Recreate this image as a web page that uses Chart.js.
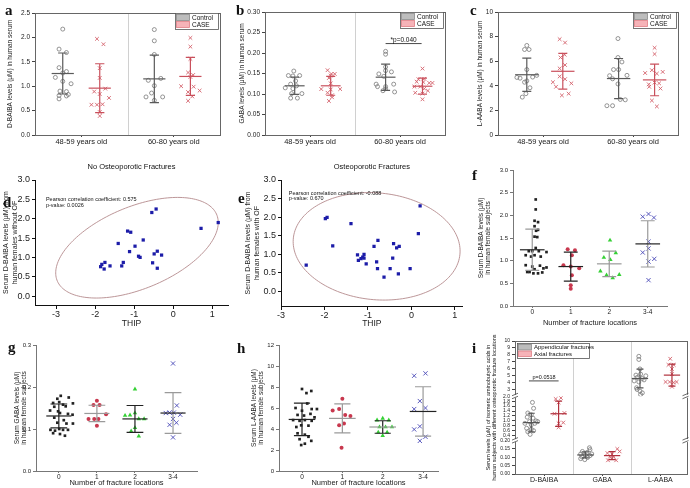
<!DOCTYPE html>
<html>
<head>
<meta charset="utf-8">
<script src="https://cdn.jsdelivr.net/npm/chart.js@4.4.1/dist/chart.umd.min.js"></script>
<style>
  body { margin: 0; background: #fff; }
  #fig { position: relative; width: 690px; height: 488px; overflow: hidden; }
  #fig canvas { position: absolute; }
  .tag { position: absolute; font: bold 15px "Liberation Serif", serif; line-height: 1; color: #111; }
</style>
</head>
<body>
<div id="fig">
  <canvas id="ca" width="228" height="152" style="left:0;top:0"></canvas>
  <canvas id="cb" width="228" height="152" style="left:228px;top:0"></canvas>
  <canvas id="cc" width="234" height="152" style="left:456px;top:0"></canvas>
  <canvas id="cd" width="235" height="170" style="left:0;top:160px"></canvas>
  <canvas id="ce" width="230" height="170" style="left:235px;top:160px"></canvas>
  <canvas id="cf" width="225" height="170" style="left:465px;top:160px"></canvas>
  <canvas id="cg" width="225" height="163" style="left:0;top:325px"></canvas>
  <canvas id="ch" width="235" height="163" style="left:225px;top:325px"></canvas>
  <canvas id="ci" width="230" height="163" style="left:460px;top:325px"></canvas>
  <div class="tag" style="left:5px;top:3px">a</div>
  <div class="tag" style="left:236px;top:3px">b</div>
  <div class="tag" style="left:470px;top:3px">c</div>
  <div class="tag" style="left:3px;top:195px">d</div>
  <div class="tag" style="left:238px;top:191px">e</div>
  <div class="tag" style="left:472px;top:168px">f</div>
  <div class="tag" style="left:8px;top:340px">g</div>
  <div class="tag" style="left:237px;top:341px">h</div>
  <div class="tag" style="left:472px;top:341px">i</div>
</div>
<script>
// categories
const ageGroups = ['48-59 years old', '60-80 years old'];
const fracLabels = ['0', '1', '2', '3-4'];
const acidLabels = ['D-BAIBA', 'GABA', 'L-AABA'];

// a: D-BAIBA in serum (Control / CASE, two age groups); *j = horizontal jitter
const aPos = [0.30, 0.70, 1.29, 1.68];
const aC1 = [2.17, 1.76, 1.69, 1.38, 1.27, 1.30, 1.18, 1.10, 1.05, 0.90, 0.89, 0.83, 0.81, 0.80, 0.74];
const aC1j = [0, -0.04, 0.04, -0.04, 0, 0.04, -0.08, 0, 0.09, -0.03, 0.04, 0.06, -0.04, 0.04, -0.04];
const aS1 = [1.97, 1.86, 1.37, 1.17, 0.89, 0.95, 0.84, 0.76, 0.62, 0.62, 0.63, 0.47, 0.39];
const aS1j = [-0.03, 0.04, 0, 0, -0.06, 0.06, 0, 0.1, -0.09, -0.03, 0.03, 0, 0];
const aC2 = [2.16, 1.93, 1.65, 1.12, 1.16, 1.01, 0.86, 0.78, 0.78, 0.71];
const aC2j = [0, 0, 0, -0.065, 0.07, 0, -0.03, -0.09, 0.09, 0];
const aS2 = [1.99, 1.81, 1.56, 1.28, 1.23, 1.19, 1.00, 0.99, 0.91, 0.88, 0.79, 0.70];
const aS2j = [0, 0, 0, -0.025, 0.03, 0, -0.1, 0.035, 0.1, -0.025, 0.02, -0.025];
const aMean = [1.26, 0.96, 1.15, 1.20];
const aSD = [0.42, 0.50, 0.485, 0.39];

// b: GABA in serum
const bPos = [0.33, 0.73, 1.34, 1.75];
const bC1 = [0.156, 0.145, 0.144, 0.145, 0.132, 0.124, 0.120, 0.115, 0.113, 0.101, 0.101, 0.090, 0.090];
const bC1j = [-0.01, -0.07, -0.02, 0.055, 0.01, -0.045, 0.02, -0.105, -0.02, 0.08, -0.035, -0.045, 0.03];
const bS1 = [0.158, 0.149, 0.149, 0.145, 0.139, 0.126, 0.112, 0.112, 0.111, 0.103, 0.097, 0.092, 0.083];
const bS1j = [-0.035, 0.007, 0.045, 0, -0.02, 0, -0.105, 0.105, 0, -0.035, 0.015, 0.015, -0.02];
const bC2 = [0.204, 0.197, 0.166, 0.157, 0.154, 0.149, 0.143, 0.124, 0.118, 0.124, 0.118, 0.113, 0.108, 0.105];
const bC2j = [0, 0, 0, 0, 0.065, -0.075, -0.02, -0.105, -0.09, 0.09, 0, 0, -0.03, 0.1];
const bS2 = [0.162, 0.137, 0.136, 0.130, 0.129, 0.127, 0.127, 0.118, 0.118, 0.113, 0.103, 0.108, 0.101, 0.087];
const bS2j = [0, 0.02, -0.045, -0.065, 0.01, 0.075, 0.11, -0.09, -0.025, 0.02, -0.08, 0.06, 0, 0];
const bMean = [0.120, 0.120, 0.141, 0.119];
const bSD = [0.021, 0.023, 0.032, 0.0195];

// c: L-AABA in serum
const cPos = [0.32, 0.72, 1.34, 1.74];
const cC1 = [7.28, 6.95, 6.95, 5.32, 4.68, 4.62, 4.85, 4.71, 4.40, 4.29, 3.84, 3.36, 3.08];
const cC1j = [0, -0.025, 0.025, 0, -0.11, -0.075, 0.11, 0.065, 0, -0.025, 0.035, -0.01, -0.05];
const cS1 = [7.79, 7.51, 6.30, 6.53, 5.41, 5.69, 4.76, 4.54, 4.29, 3.92, 4.20, 3.36, 3.22];
const cS1j = [-0.035, 0.025, -0.025, 0.02, -0.035, 0.025, -0.035, 0.025, -0.11, -0.075, 0.095, 0.065, -0.01];
const cC2 = [7.84, 6.30, 5.94, 5.32, 5.32, 4.82, 4.85, 4.57, 4.15, 2.89, 2.86, 2.38, 2.38];
const cC2j = [-0.007, -0.007, 0.037, -0.056, 0, -0.1, 0.093, -0.067, -0.007, 0.019, 0.074, -0.13, -0.067];
const cS2 = [7.09, 6.58, 5.04, 5.27, 4.99, 5.13, 4.12, 4.26, 4.20, 3.92, 3.78, 2.80, 2.32];
const cS2j = [0, 0, -0.105, -0.03, 0.025, 0.09, -0.065, 0, 0.05, -0.06, 0.065, -0.03, 0.025];
const cMean = [4.90, 5.18, 4.59, 4.48];
const cSD = [1.35, 1.45, 1.63, 1.29];

// d: THIP vs D-BAIBA, no osteoporotic fractures
const dThip = [-0.44, -0.55, 1.15, 0.71, -1.17, -1.09, -0.77, -1.41, -0.98, -1.12, -0.41, -0.49, -0.30, -0.89, -0.85, -1.75, -1.28, -1.83, -1.62, -1.86, -1.32, -1.77, -0.53, -0.41];
const dBaiba = [2.25, 2.16, 1.90, 1.75, 1.68, 1.65, 1.45, 1.36, 1.29, 1.15, 1.16, 1.09, 1.06, 1.03, 1.00, 0.87, 0.87, 0.82, 0.78, 0.76, 0.78, 0.70, 0.86, 0.72];

// e: THIP vs D-BAIBA, osteoporotic fractures
const eThip = [0.20, -1.94, -1.98, -1.39, 0.16, -1.81, -0.77, -0.86, -0.41, -0.34, -0.28, -1.24, -1.09, -1.12, -1.16, -1.22, -1.09, -0.43, -0.80, -1.04, -2.42, -0.78, -0.49, -0.03, -0.63, -0.30];
const eBaiba = [2.30, 1.99, 1.96, 1.82, 1.55, 1.22, 1.37, 1.21, 1.28, 1.17, 1.21, 0.98, 0.99, 0.92, 0.88, 0.83, 0.89, 0.89, 0.79, 0.74, 0.70, 0.61, 0.61, 0.61, 0.38, 0.47];

// f: D-BAIBA by number of fracture locations
const f0 = [2.35, 2.13, 1.88, 1.85, 1.76, 1.68, 1.66, 1.53, 1.52, 1.28, 1.21, 1.21, 1.21, 1.19, 1.12, 1.09, 1.12, 1.09, 0.90, 0.87, 0.89, 0.85, 0.83, 0.81, 0.75, 0.72, 0.72, 0.74, 0.75];
const f0j = [0.09, 0.09, 0.06, 0.15, 0.06, 0.15, 0.1, 0.06, 0.13, 0.09, -0.09, 0, 0.17, 0.37, -0.17, -0.03, 0.06, 0.22, -0.17, 0, 0.2, 0.37, 0.29, 0.06, -0.07, 0.03, 0.15, 0.26, -0.13];
const f1 = [1.25, 1.23, 1.12, 0.90, 0.87, 0.83, 0.68, 0.46, 0.38];
const f1j = [-0.08, 0.11, 0.03, -0.19, 0, 0.22, 0.03, 0, 0];
const f2 = [1.45, 1.07, 1.17, 1.02, 0.77, 0.68, 0.62, 0.69];
const f2j = [0.02, -0.14, 0.17, 0.03, -0.23, -0.07, 0.09, 0.26];
const f3 = [1.97, 2.03, 1.95, 1.42, 1.27, 1.18, 0.98, 1.04, 0.57];
const f3j = [-0.13, 0.02, 0.16, 0.02, 0.02, -0.13, 0.02, 0.17, 0.02];
const fMean = [1.24, 0.87, 0.93, 1.37];
const fSD = [0.455, 0.32, 0.28, 0.51];

// g: GABA by number of fracture locations
const g0 = [0.179, 0.172, 0.175, 0.162, 0.164, 0.158, 0.161, 0.153, 0.154, 0.144, 0.142, 0.138, 0.136, 0.134, 0.127, 0.121, 0.115, 0.113, 0.113, 0.098, 0.096, 0.100, 0.098, 0.098, 0.088, 0.084, 0.090];
const g0j = [0.05, -0.04, 0.26, -0.15, 0.01, 0.11, 0.37, -0.12, 0.18, -0.23, -0.02, 0.03, 0.24, 0.36, -0.12, 0.13, -0.04, 0.2, 0.37, -0.22, -0.1, 0.01, 0.11, 0.24, 0.03, 0.16, -0.15];
const g1 = [0.167, 0.157, 0.157, 0.135, 0.124, 0.124, 0.124, 0.108];
const g1j = [0, 0.07, -0.09, 0.24, -0.22, -0.07, 0.04, 0];
const g2 = [0.195, 0.132, 0.133, 0.138, 0.124, 0.124, 0.103, 0.095, 0.083];
const g2j = [0, -0.26, -0.13, 0, 0.1, 0.24, 0, -0.1, 0.1];
const g3 = [0.256, 0.156, 0.139, 0.139, 0.138, 0.134, 0.124, 0.110, 0.115, 0.080];
const g3j = [0, 0.1, -0.09, 0.02, -0.19, 0.19, 0, -0.09, 0.09, 0];
const gMean = [0.131, 0.137, 0.124, 0.138];
const gSD = [0.0285, 0.0195, 0.032, 0.0485];

// h: L-AABA by number of fracture locations
const h0 = [7.81, 7.42, 7.62, 6.43, 6.0, 5.90, 5.90, 5.74, 5.34, 5.28, 5.44, 4.85, 4.78, 4.85, 4.78, 5.11, 4.19, 4.35, 4.32, 3.59, 3.46, 3.26, 3.03, 2.87, 2.60, 2.47];
const h0j = [0, 0.11, 0.23, 0.13, -0.16, 0.24, 0.37, 0, -0.11, 0.05, 0.21, -0.22, -0.06, 0.07, 0.24, 0.31, -0.14, -0.02, 0.16, -0.11, 0.07, 0.16, -0.06, 0.23, 0.07, -0.02];
const h1 = [6.89, 5.77, 5.90, 5.34, 5.24, 4.52, 4.35, 2.21];
const h1j = [0, -0.24, -0.08, 0.07, 0.2, 0.04, -0.08, -0.02];
const h2 = [5.01, 4.85, 4.85, 4.19, 4.19, 4.19, 3.69, 3.69, 3.36];
const h2j = [0, -0.14, 0.15, -0.08, 0.07, 0.23, -0.11, 0.11, 0];
const h3 = [9.07, 9.30, 6.66, 5.90, 6.0, 4.25, 3.96, 3.26, 2.87];
const h3j = [-0.22, 0.06, -0.08, -0.22, 0.06, -0.08, -0.22, 0.06, -0.08];
const hMean = [4.91, 5.01, 4.19, 5.67];
const hSD = [1.55, 1.385, 0.595, 2.355];

// i: appendicular vs axial fractures, three acids (broken y axis)
const iPos = [0.28, 0.75, 1.21, 1.67, 2.15, 2.70];
const iDa = [1.75, 1.51, 1.32, 1.25, 1.15, 1.11, 1.0, 0.97, 0.90, 0.90, 0.84, 0.70, 0.66, 0.56, 0.45, 0.60, 0.97];
const iDaj = [0.02, 0.04, -0.06, 0, -0.07, 0.03, 0.08, -0.03, -0.11, 0.06, 0, -0.08, 0, -0.06, -0.02, 0.04, 0.11];
const iDx = [1.89, 1.93, 1.75, 1.32, 1.29, 0.90, 0.93, 0.74];
const iDxj = [-0.05, 0.04, 0, 0.1, -0.07, 0, 0.08, 0];
const iGa = [0.135, 0.129, 0.146, 0.120, 0.114, 0.110, 0.103, 0.099, 0.120, 0.086, 0.092, 0.157];
const iGaj = [-0.05, 0.03, 0.08, -0.08, 0, 0.08, -0.06, 0.04, 0.11, -0.01, -0.08, 0.07];
const iGx = [0.125, 0.150, 0.118, 0.103, 0.082, 0.082, 0.103, 0.135];
const iGxj = [-0.08, 0.09, 0, 0.03, -0.07, 0.07, -0.04, 0.13];
const iLa = [7.78, 7.33, 5.95, 5.06, 5.21, 4.96, 4.72, 4.57, 4.22, 4.07, 4.37, 3.23, 2.74, 2.49, 2.99, 2.25];
const iLaj = [-0.02, -0.02, 0, -0.07, 0.01, 0.1, -0.05, 0.04, -0.1, -0.02, 0.07, -0.06, 0, 0.04, -0.05, 0.01];
const iLx = [7.43, 6.54, 6.54, 5.95, 5.21, 4.07, 4.07, 3.98, 4.07, 3.38];
const iLxj = [-0.03, -0.06, 0.03, 0, 0, -0.11, -0.04, 0.03, 0.08, 0];
const iMean = [0.93, 1.29, 0.114, 0.110, 4.57, 5.06];
const iSD = [0.38, 0.51, 0.018, 0.0235, 1.36, 1.58];

const FONT = '"Liberation Sans", Arial, sans-serif';
const fnt = size => ({ family: FONT, size, weight: 'normal' });
const pts = (pos, jit, vals) => vals.map((v, i) => ({ x: pos + jit[i], y: v }));
const xy = (xs, ys) => xs.map((x, i) => ({ x, y: ys[i] }));
const ds = (data, style, yAxisID) => Object.assign({ data, pointHoverRadius: 0 }, style, yAxisID ? { yAxisID } : {});
const bars = (pos, mean, sd, cols, mw, cw, axes) => pos.map((x, i) => ({
  x, mean: mean[i], sd: sd[i], color: cols[i][0], mc: cols[i][1] || cols[i][0], mw, cw, axis: axes ? axes[i] : 'y'
}));

// point styles
const CTRL = { pointStyle: 'circle', pointRadius: 2, backgroundColor: 'rgba(0,0,0,0)', borderColor: '#7a7a7a', borderWidth: 0.8 };
const CASE = { pointStyle: 'crossRot', pointRadius: 2.6, borderColor: '#d4616b', borderWidth: 0.9 };
const BLUE = { pointStyle: 'rect', pointRadius: 2.3, backgroundColor: '#1c1ca8', borderColor: '#1c1ca8', borderWidth: 0 };
const GRP = [
  { pointStyle: 'rect', pointRadius: 1.9, backgroundColor: '#222', borderColor: '#222', borderWidth: 0 },
  { pointStyle: 'circle', pointRadius: 2, backgroundColor: '#c8384e', borderColor: '#c8384e', borderWidth: 0 },
  { pointStyle: 'triangle', pointRadius: 2.6, backgroundColor: '#35d035', borderColor: '#35d035', borderWidth: 0 },
  { pointStyle: 'crossRot', pointRadius: 3, borderColor: '#4a4ab8', borderWidth: 0.9 }
];
const CC = ['#5a5a5a'], RC = ['#c9505c'];
const LEG_AGE = {
  w: 43, h: 16, sw: 13, size: 6.5, dx: 2, dy: 0,
  items: [{ label: 'Control', fill: '#bdbdbd', stroke: '#8a8a8a' }, { label: 'CASE', fill: '#f6b3b8', stroke: '#e07e86' }]
};

// drawing of error bars, frames, legends, notes and the ellipse through the chart scales
const deco = {
  id: 'deco',
  beforeDatasetsDraw(chart, args, o) {
    const { ctx, chartArea: ca, scales } = chart;
    ctx.save();
    ctx.lineWidth = 1; ctx.strokeStyle = '#d0d0d0';
    (o.dividers || []).forEach(v => {
      const x = Math.round(scales.x.getPixelForValue(v)) + 0.5;
      ctx.beginPath(); ctx.moveTo(x, ca.top); ctx.lineTo(x, ca.bottom); ctx.stroke();
    });
    if (o.ellipse) {
      const e = o.ellipse, k = Math.sqrt(1 - e.rho * e.rho);
      ctx.strokeStyle = e.color; ctx.lineWidth = 0.9; ctx.beginPath();
      for (let i = 0; i <= 180; i++) {
        const t = i / 180 * Math.PI * 2;
        const px = scales.x.getPixelForValue(e.cx + e.rx * Math.cos(t));
        const py = scales.y.getPixelForValue(e.cy + e.ry * (e.rho * Math.cos(t) + k * Math.sin(t)));
        if (i) ctx.lineTo(px, py); else ctx.moveTo(px, py);
      }
      ctx.stroke();
    }
    ctx.restore();
  },
  afterDatasetsDraw(chart, args, o) {
    const { ctx, chartArea: ca, scales } = chart;
    const xs = scales.x;
    ctx.save();
    (o.bars || []).forEach(b => {
      const ys = scales[b.axis];
      const px = xs.getPixelForValue(b.x);
      const mw = xs.getPixelForValue(b.x + b.mw) - px, cw = xs.getPixelForValue(b.x + b.cw) - px;
      const yt = ys.getPixelForValue(b.mean + b.sd), yb = ys.getPixelForValue(b.mean - b.sd), ym = ys.getPixelForValue(b.mean);
      ctx.lineWidth = 1.2; ctx.strokeStyle = b.color;
      ctx.beginPath();
      ctx.moveTo(px, yt); ctx.lineTo(px, yb);
      ctx.moveTo(px - cw, yt); ctx.lineTo(px + cw, yt);
      ctx.moveTo(px - cw, yb); ctx.lineTo(px + cw, yb);
      ctx.stroke();
      ctx.strokeStyle = b.mc;
      ctx.beginPath(); ctx.moveTo(px - mw, ym); ctx.lineTo(px + mw, ym); ctx.stroke();
    });
    (o.lines || []).forEach(l => {
      const ys = scales[l.axis || 'y'], y = ys.getPixelForValue(l.y);
      ctx.strokeStyle = '#333'; ctx.lineWidth = 0.9;
      ctx.beginPath(); ctx.moveTo(xs.getPixelForValue(l.x1), y); ctx.lineTo(xs.getPixelForValue(l.x2), y); ctx.stroke();
    });
    (o.texts || []).forEach(t => {
      ctx.font = t.size + 'px ' + FONT; ctx.fillStyle = '#111';
      ctx.textAlign = t.align || 'left'; ctx.textBaseline = 'alphabetic';
      ctx.fillText(t.text, xs.getPixelForValue(t.x), scales[t.axis || 'y'].getPixelForValue(t.y));
    });
    if (o.frame) {
      ctx.strokeStyle = o.frame; ctx.lineWidth = 1;
      ctx.strokeRect(Math.round(ca.left) + 0.5, Math.round(ca.top) + 0.5, Math.round(ca.width), Math.round(ca.height));
    }
    if (o.breaks) {
      ctx.strokeStyle = '#444'; ctx.lineWidth = 0.8;
      o.breaks.forEach(id => {
        const y = scales[id].bottom;
        [ca.left, ca.right - 1].forEach(x => {
          ctx.fillStyle = '#fff'; ctx.fillRect(x - 3, y - 1.5, 6, 3);
          ctx.beginPath();
          ctx.moveTo(x - 3, y - 0.5); ctx.lineTo(x + 3, y - 3);
          ctx.moveTo(x - 3, y + 2.5); ctx.lineTo(x + 3, y);
          ctx.stroke();
        });
      });
    }
    if (o.legend) {
      const L = o.legend;
      ctx.font = L.size + 'px ' + FONT;
      const x0 = L.left ? ca.left + L.dx : ca.right - L.w - L.dx, y0 = ca.top + L.dy;
      ctx.fillStyle = '#fff'; ctx.fillRect(x0, y0, L.w, L.h);
      ctx.strokeStyle = '#555'; ctx.lineWidth = 0.8; ctx.strokeRect(x0 + 0.5, y0 + 0.5, L.w, L.h);
      const rh = (L.h - 2) / L.items.length;
      L.items.forEach((it, i) => {
        const yy = y0 + 1.5 + i * rh;
        ctx.fillStyle = it.fill; ctx.fillRect(x0 + 1.5, yy, L.sw, rh - 1);
        ctx.strokeStyle = it.stroke; ctx.strokeRect(x0 + 1.5, yy, L.sw, rh - 1);
        ctx.fillStyle = '#111'; ctx.textAlign = 'left'; ctx.textBaseline = 'middle';
        ctx.fillText(it.label, x0 + L.sw + 4, yy + rh / 2);
      });
    }
    if (o.vtitle) {
      const V = o.vtitle;
      ctx.translate(V.x, (ca.top + ca.bottom) / 2); ctx.rotate(-Math.PI / 2);
      ctx.font = V.size + 'px ' + FONT; ctx.fillStyle = '#111';
      ctx.textAlign = 'center'; ctx.textBaseline = 'middle';
      V.lines.forEach((ln, i) => ctx.fillText(ln, 0, i * V.lh));
    }
    ctx.restore();
  }
};
Chart.register(deco);

function yLin(o) {
  const col = o.color || '#444';
  const ax = {
    type: 'linear', position: 'left', min: o.min, max: o.max,
    afterFit: s => { s.width = o.w; },
    border: { color: col, width: 1 },
    grid: { drawOnChartArea: false, tickLength: 3, color: col },
    ticks: { stepSize: o.step, font: fnt(o.fs), color: '#222', padding: 2, includeBounds: false, autoSkip: false },
    title: o.title ? { display: true, text: o.title, font: fnt(o.tfs), color: '#222', padding: { top: o.tp, bottom: 0 } } : { display: false }
  };
  if (o.cb) ax.ticks.callback = o.cb;
  return ax;
}

function xAx(o) {
  const col = o.color || '#444';
  const ax = {
    type: 'linear', min: o.min, max: o.max,
    afterFit: s => { s.height = o.h; },
    border: { color: col, width: 1 },
    grid: { drawOnChartArea: false, tickLength: o.tl || 2, color: col },
    ticks: { font: fnt(o.fs), color: '#222', padding: 0, maxRotation: 0, autoSkip: false, includeBounds: false },
    title: o.title ? { display: true, text: o.title, font: fnt(o.tfs), color: '#222', padding: { top: 0, bottom: o.tb || 1 } } : { display: false }
  };
  if (o.at) {
    ax.afterBuildTicks = s => { s.ticks = o.at.map(value => ({ value })); };
    ax.ticks.callback = (v, i) => o.labels[i];
  } else {
    ax.ticks.stepSize = o.step;
  }
  return ax;
}

function opts(pad, scales, deco, title) {
  return {
    responsive: false, animation: false, devicePixelRatio: 1, events: [],
    layout: { padding: pad },
    plugins: { legend: { display: false }, tooltip: { enabled: false }, title: title || { display: false }, deco },
    scales
  };
}

function make(id, datasets, options) {
  return new Chart(document.getElementById(id), { type: 'scatter', data: { datasets }, options });
}

const f1dp = v => v.toFixed(1), f2dp = v => v.toFixed(2);

// a
make('ca', [
  ds(pts(aPos[0], aC1j, aC1), CTRL), ds(pts(aPos[1], aS1j, aS1), CASE),
  ds(pts(aPos[2], aC2j, aC2), CTRL), ds(pts(aPos[3], aS2j, aS2), CASE)
], opts({ left: 0, right: 8, top: 13, bottom: 0 }, {
  x: xAx({ min: 0, max: 2, h: 17, at: [0.5, 1.5], labels: ageGroups, fs: 7.5 }),
  y: yLin({ min: 0, max: 2.5, step: 0.5, w: 35, fs: 6.5, tfs: 6.5, tp: 6, cb: f1dp, title: 'D-BAIBA levels (μM) in human serum' })
}, { frame: '#666', dividers: [1], legend: LEG_AGE, bars: bars(aPos, aMean, aSD, [CC, RC, CC, RC], 0.12, 0.05) }));

// b
make('cb', [
  ds(pts(bPos[0], bC1j, bC1), CTRL), ds(pts(bPos[1], bS1j, bS1), CASE),
  ds(pts(bPos[2], bC2j, bC2), CTRL), ds(pts(bPos[3], bS2j, bS2), CASE)
], opts({ left: 0, right: 11, top: 12, bottom: 0 }, {
  x: xAx({ min: 0, max: 2, h: 17, at: [0.5, 1.5], labels: ageGroups, fs: 7.5 }),
  y: yLin({ min: 0, max: 0.3, step: 0.05, w: 37, fs: 6.5, tfs: 6.5, tp: 10, cb: f2dp, title: 'GABA levels (μM) in human serum' })
}, {
  frame: '#666', dividers: [1], legend: LEG_AGE, bars: bars(bPos, bMean, bSD, [CC, RC, CC, RC], 0.11, 0.05),
  lines: [{ x1: 1.34, x2: 1.74, y: 0.223 }], texts: [{ text: '*p=0.040', x: 1.54, y: 0.227, align: 'center', size: 6.5 }]
}));

// c
make('cc', [
  ds(pts(cPos[0], cC1j, cC1), CTRL), ds(pts(cPos[1], cS1j, cS1), CASE),
  ds(pts(cPos[2], cC2j, cC2), CTRL), ds(pts(cPos[3], cS2j, cS2), CASE)
], opts({ left: 0, right: 12, top: 12, bottom: 0 }, {
  x: xAx({ min: 0, max: 2, h: 17, at: [0.5, 1.5], labels: ageGroups, fs: 7.5 }),
  y: yLin({ min: 0, max: 10, step: 2, w: 42, fs: 6.5, tfs: 6.5, tp: 20, title: 'L-AABA levels (μM) in human serum' })
}, { frame: '#666', legend: LEG_AGE, bars: bars(cPos, cMean, cSD, [CC, RC, CC, RC], 0.13, 0.05) }));

// d
make('cd', [ds(xy(dThip, dBaiba), BLUE)], opts({ left: 0, right: 7, top: 0, bottom: 0 }, {
  x: xAx({ min: -3.54, max: 1.4, step: 1, h: 25, tl: 4, fs: 9, title: 'THIP', tfs: 8.5, color: '#111' }),
  y: yLin({ min: -0.23, max: 3.0, step: 0.5, w: 35, fs: 9, tfs: 7, tp: 2, cb: f1dp, color: '#111',
    title: ['Serum D-BAIBA levels (μM) from', 'human females without OF'] })
}, {
  ellipse: { cx: -0.93, cy: 1.25, rx: 2.08, ry: 1.3, rho: 0.5, color: '#b48a8c' },
  texts: [
    { text: 'Pearson correlation coefficient: 0.575', x: -3.26, y: 2.47, size: 5.5 },
    { text: 'p-value: 0.0026', x: -3.26, y: 2.31, size: 5.5 }
  ]
}, { display: true, text: 'No Osteoporotic Fractures', font: fnt(7.5), color: '#111', fullSize: false, padding: { top: 2, bottom: 9 } }));

// e
make('ce', [ds(xy(eThip, eBaiba), BLUE)], opts({ left: 0, right: 2, top: 0, bottom: 0 }, {
  x: xAx({ min: -3, max: 1.18, step: 1, h: 24, tl: 4, fs: 9, title: 'THIP', tfs: 8.5, color: '#111' }),
  y: yLin({ min: -0.4, max: 3.0, step: 0.5, w: 46, fs: 9, tfs: 7, tp: 9, cb: f1dp, color: '#111',
    title: ['Serum D-BAIBA levels (μM) from', 'human females with OF'] })
}, {
  ellipse: { cx: -0.8, cy: 1.21, rx: 1.92, ry: 1.45, rho: -0.088, color: '#b48a8c' },
  texts: [
    { text: 'Pearson correlation coefficient: -0.088', x: -2.82, y: 2.6, size: 5.5 },
    { text: 'p-value: 0.670', x: -2.82, y: 2.45, size: 5.5 }
  ]
}, { display: true, text: 'Osteoporotic Fractures', font: fnt(7.5), color: '#111', fullSize: false, padding: { top: 2, bottom: 9 } }));

// f, g, h share the fracture-location layout
const GB = '#9a9a9a', BK = '#222';
make('cf', [
  ds(pts(0, f0j, f0), GRP[0]), ds(pts(1, f1j, f1), GRP[1]), ds(pts(2, f2j, f2), GRP[2]), ds(pts(3, f3j, f3), GRP[3])
], opts({ left: 0, right: 23, top: 10, bottom: 0 }, {
  x: xAx({ min: -0.5, max: 3.5, h: 24, at: [0, 1, 2, 3], labels: fracLabels, fs: 6.5, color: '#777', title: 'Number of fracture locations', tfs: 7.5, tb: 3 }),
  y: yLin({ min: 0, max: 3, step: 0.5, w: 48, fs: 6, tfs: 6.5, tp: 12, cb: f1dp, color: '#777',
    title: ['Serum D-BAIBA levels (μM)', 'in human female subjects'] })
}, { bars: bars([0, 1, 2, 3], fMean, fSD, [[GB, BK], [BK], [GB], [GB, BK]], 0.32, 0.18) }));

make('cg', [
  ds(pts(0, g0j, g0), GRP[0]), ds(pts(1, g1j, g1), GRP[1]), ds(pts(2, g2j, g2), GRP[2]), ds(pts(3, g3j, g3), GRP[3])
], opts({ left: 0, right: 28, top: 20, bottom: 0 }, {
  x: xAx({ min: -0.6, max: 3.63, h: 17, at: [0, 1, 2, 3], labels: fracLabels, fs: 6.5, color: '#777', title: 'Number of fracture locations', tfs: 7.5, tb: 0 }),
  y: yLin({ min: 0, max: 0.3, step: 0.1, w: 36, fs: 6, tfs: 6.5, tp: 13, cb: f1dp, color: '#777',
    title: ['Serum GABA levels (μM)', 'in human female subjects'] })
}, { bars: bars([0, 1, 2, 3], gMean, gSD, [[BK], [GB], [BK], [GB, BK]], 0.33, 0.22) }));

make('ch', [
  ds(pts(0, h0j, h0), GRP[0]), ds(pts(1, h1j, h1), GRP[1]), ds(pts(2, h2j, h2), GRP[2]), ds(pts(3, h3j, h3), GRP[3])
], opts({ left: 0, right: 22, top: 20, bottom: 0 }, {
  x: xAx({ min: -0.57, max: 3.37, h: 17, at: [0, 1, 2, 3], labels: fracLabels, fs: 6.5, color: '#777', title: 'Number of fracture locations', tfs: 7.5, tb: 0 }),
  y: yLin({ min: 0, max: 12, step: 2, w: 54, fs: 6, tfs: 6.5, tp: 25, color: '#777',
    title: ['Serum L-AABA levels (μM)', 'in human female subjects'] })
}, { bars: bars([0, 1, 2, 3], hMean, hSD, [[BK], [GB], [BK, GB], [GB, BK]], 0.33, 0.2) }));

// i: three stacked y segments make the broken axis
const iAx = ['yMid', 'yMid', 'yBot', 'yBot', 'yTop', 'yTop'];
const ICOL = ['#555'], IRED = ['#b0303c'];
make('ci', [
  ds(pts(iPos[0], iDaj, iDa), CTRL, 'yMid'), ds(pts(iPos[1], iDxj, iDx), CASE, 'yMid'),
  ds(pts(iPos[2], iGaj, iGa), CTRL, 'yBot'), ds(pts(iPos[3], iGxj, iGx), CASE, 'yBot'),
  ds(pts(iPos[4], iLaj, iLa), CTRL, 'yTop'), ds(pts(iPos[5], iLxj, iLx), CASE, 'yTop')
], opts({ left: 0, right: 0, top: 16, bottom: 0 }, {
  x: xAx({ min: 0, max: 2.95, h: 14, at: [0.5, 1.5, 2.5], labels: acidLabels, fs: 7 }),
  yTop: Object.assign(yLin({ min: 2, max: 10, step: 1, w: 55, fs: 5, cb: v => (v === 2 ? '' : v) }), { stack: 'i', stackWeight: 162, weight: 3 }),
  yMid: Object.assign(yLin({ min: 0.2, max: 2.0, step: 0.2, w: 55, fs: 5, cb: v => (v < 0.3 ? '' : v.toFixed(1)) }), { stack: 'i', stackWeight: 130, weight: 2 }),
  yBot: Object.assign(yLin({ min: 0, max: 0.2, step: 0.05, w: 55, fs: 5, cb: f2dp }), { stack: 'i', stackWeight: 98, weight: 1 })
}, {
  frame: '#666', dividers: [1, 2], breaks: ['yTop', 'yMid'],
  bars: bars(iPos, iMean, iSD, [ICOL, IRED, ICOL, IRED, ICOL, IRED], 0.14, 0.06, iAx),
  lines: [{ x1: 0.24, x2: 0.75, y: 4.22, axis: 'yTop' }],
  texts: [{ text: 'p=0.0518', x: 0.5, y: 4.5, axis: 'yTop', align: 'center', size: 5.5 }],
  legend: {
    left: true, w: 72, h: 15, sw: 13, size: 6, dx: 2, dy: 2,
    items: [{ label: 'Appendicular fractures', fill: '#bdbdbd', stroke: '#8a8a8a' }, { label: 'Axial fractures', fill: '#f6b3b8', stroke: '#e07e86' }]
  },
  vtitle: { x: 28, lh: 6.5, size: 5.5, lines: ['Serum levels (μM) of isomeric aminobutyric acids in', 'human subjects with different osteoporotic fracture locations'] }
}));
</script>
</body>
</html>
